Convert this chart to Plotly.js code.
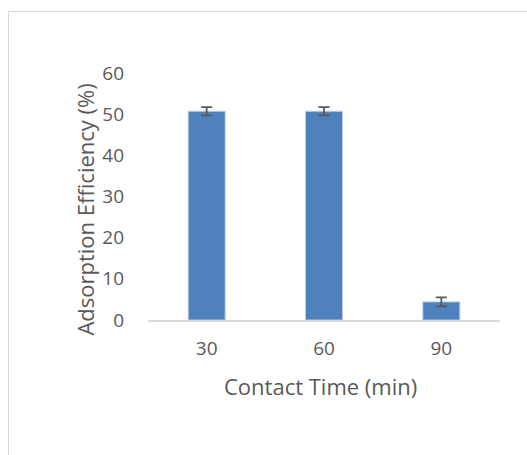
<!DOCTYPE html>
<html><head><meta charset="utf-8">
<script src="https://cdn.plot.ly/plotly-3.0.1.min.js"></script>
<style>body{margin:0;background:#fff;overflow:hidden}
#frame{position:absolute;left:8px;top:11px;width:700px;height:700px;border-left:1.5px solid #d9d9d9;border-top:1.5px solid #d9d9d9;pointer-events:none}
#chart{position:absolute;left:0;top:0;width:527px;height:455px}</style>
</head><body>
<div id="chart"></div><div id="frame"></div>
<script>
const categories = ['30', '60', '90'];
const efficiency = [50.7, 50.7, 4.4];
const errors = [1.0, 1.0, 1.1];
const yTicks = [0, 10, 20, 30, 40, 50, 60];
const xTitle = 'Contact Time (min)';
const yTitle = 'Adsorption Efficiency (%)';

const fontFam = '"Open Sans", sans-serif';
const tick = {family: fontFam, color: '#595959', size: 19};
const ttl = {family: fontFam, color: '#595959', size: 22};
Plotly.newPlot('chart', [{
  type: 'bar', x: categories, y: efficiency,
  marker: {color: '#4f81bd', line: {color: '#b9cde5', width: 1}},
  error_y: {type: 'data', array: errors, visible: true, color: '#595959', thickness: 1.8, width: 5.5},
  hoverinfo: 'skip'
}], {
  width: 527, height: 455,
  margin: {l: 148, r: 27, t: 73, b: 135},
  paper_bgcolor: 'rgba(0,0,0,0)', plot_bgcolor: 'rgba(0,0,0,0)',
  bargap: 0.685, showlegend: false,
  font: tick,
  xaxis: {type: 'category', showline: true, linecolor: '#d9d9d9', linewidth: 1.5,
    ticks: '', ticklabelstandoff: 11, tickfont: tick},
  yaxis: {range: [0, 60], tickvals: yTicks, showgrid: false, zeroline: false, showline: false,
    ticks: '', ticklabelstandoff: 23, tickfont: tick},
  annotations: [
    {text: xTitle, xref: 'paper', yref: 'paper', x: 0.491, y: -0.267, xanchor: 'center', yanchor: 'middle', showarrow: false, font: ttl},
    {text: yTitle, xref: 'paper', yref: 'paper', x: -0.179, y: 0.447, xanchor: 'center', yanchor: 'middle', textangle: -90, showarrow: false, font: ttl}
  ]
}, {displayModeBar: false, staticPlot: true});
</script></body></html>
